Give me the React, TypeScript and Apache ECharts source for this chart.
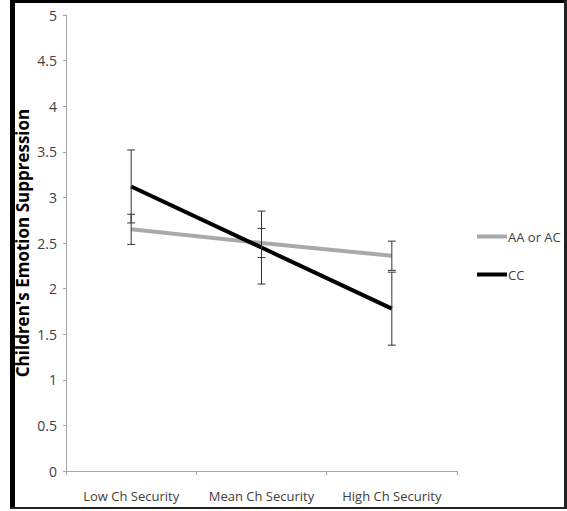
import React, { useEffect, useRef } from "react";
import * as echarts from "echarts";

const categories = ["Low Ch Security", "Mean Ch Security", "High Ch Security"];
const seriesNames = ["AA or AC", "CC"];
const aaValues = [2.65, 2.5, 2.36];
const ccValues = [3.12, 2.45, 1.78];
const aaErrors = [0.165, 0.16, 0.16];
const ccErrors = [0.4, 0.4, 0.4];
const yTitle = "Children's Emotion Suppression";

const FONT = "'Open Sans', sans-serif";

export default function App() {
  const ref = useRef<HTMLDivElement>(null);
  useEffect(() => {
    if (!ref.current) return;
    const chart = echarts.init(ref.current, null, { renderer: "svg" });
    const errData = (vals: number[], errs: number[]) =>
      vals.map((v, i) => [i, v - errs[i], v + errs[i]]);
    const renderErr = (params: any, api: any) => {
      const lo = api.coord([api.value(0), api.value(1)]);
      const hi = api.coord([api.value(0), api.value(2)]);
      const h = 4;
      const st = { stroke: "#333333", lineWidth: 1 };
      return {
        type: "group",
        children: [
          { type: "line", shape: { x1: lo[0], y1: lo[1], x2: hi[0], y2: hi[1] }, style: st },
          { type: "line", shape: { x1: lo[0] - h, y1: lo[1], x2: lo[0] + h, y2: lo[1] }, style: st },
          { type: "line", shape: { x1: hi[0] - h, y1: hi[1], x2: hi[0] + h, y2: hi[1] }, style: st },
        ],
      };
    };
    chart.setOption({
      animation: false,
      backgroundColor: "#ffffff",
      grid: { left: 66, right: 110, top: 15, bottom: 40, containLabel: false },
      legend: {
        orient: "vertical",
        left: 477,
        top: 230,
        icon: "rect",
        itemWidth: 30,
        itemHeight: 4,
        itemGap: 25,
        padding: 0,
        data: seriesNames,
        textStyle: { fontFamily: FONT, fontSize: 13, color: "#404040", padding: [0, 0, 0, -4] },
      },
      xAxis: {
        type: "category",
        data: categories,
        boundaryGap: true,
        axisLine: { lineStyle: { color: "#a6a6a6", width: 1 } },
        axisTick: { show: true, length: 4, lineStyle: { color: "#a6a6a6" } },
        axisLabel: { fontFamily: FONT, fontSize: 13, color: "#404040", margin: 18, interval: 0 },
      },
      yAxis: {
        type: "value",
        min: 0,
        max: 5,
        interval: 0.5,
        name: yTitle,
        nameLocation: "middle",
        nameRotate: 90,
        nameGap: 35,
        nameMoveOverlap: false,
        nameTextStyle: { fontFamily: FONT, fontSize: 17, fontWeight: "bold", color: "#000000" },
        axisLine: { show: true, lineStyle: { color: "#a6a6a6", width: 1 } },
        axisTick: { show: true, length: 3, lineStyle: { color: "#a6a6a6" } },
        splitLine: { show: false },
        axisLabel: { fontFamily: FONT, fontSize: 14, color: "#404040", margin: 9 },
      },
      series: [
        {
          name: seriesNames[0],
          type: "line",
          data: aaValues,
          showSymbol: false,
          symbol: "none",
          lineStyle: { color: "#a9a9a9", width: 4 },
          itemStyle: { color: "#a9a9a9" },
          z: 2,
        },
        {
          name: seriesNames[1],
          type: "line",
          data: ccValues,
          showSymbol: false,
          symbol: "none",
          lineStyle: { color: "#000000", width: 4 },
          itemStyle: { color: "#000000" },
          z: 3,
        },
        {
          type: "custom",
          data: errData(aaValues, aaErrors),
          renderItem: renderErr,
          z: 4,
          silent: true,
        },
        {
          type: "custom",
          data: errData(ccValues, ccErrors),
          renderItem: renderErr,
          z: 4,
          silent: true,
        },
      ],
      graphic: [
        { type: "rect", z: 100, shape: { x: 10, y: 0, width: 5, height: 509 }, style: { fill: "#000" } },
        { type: "rect", z: 100, shape: { x: 10, y: 0, width: 557, height: 3 }, style: { fill: "#000" } },
        { type: "rect", z: 100, shape: { x: 564, y: 0, width: 3, height: 509 }, style: { fill: "#222" } },
        { type: "rect", z: 100, shape: { x: 10, y: 507, width: 557, height: 2 }, style: { fill: "#222" } },
      ],
    });
    return () => chart.dispose();
  }, []);
  return (
    <div
      ref={ref}
      style={{ position: "fixed", left: 0, top: 0, width: 567, height: 511, background: "#fff" }}
    />
  );
}
